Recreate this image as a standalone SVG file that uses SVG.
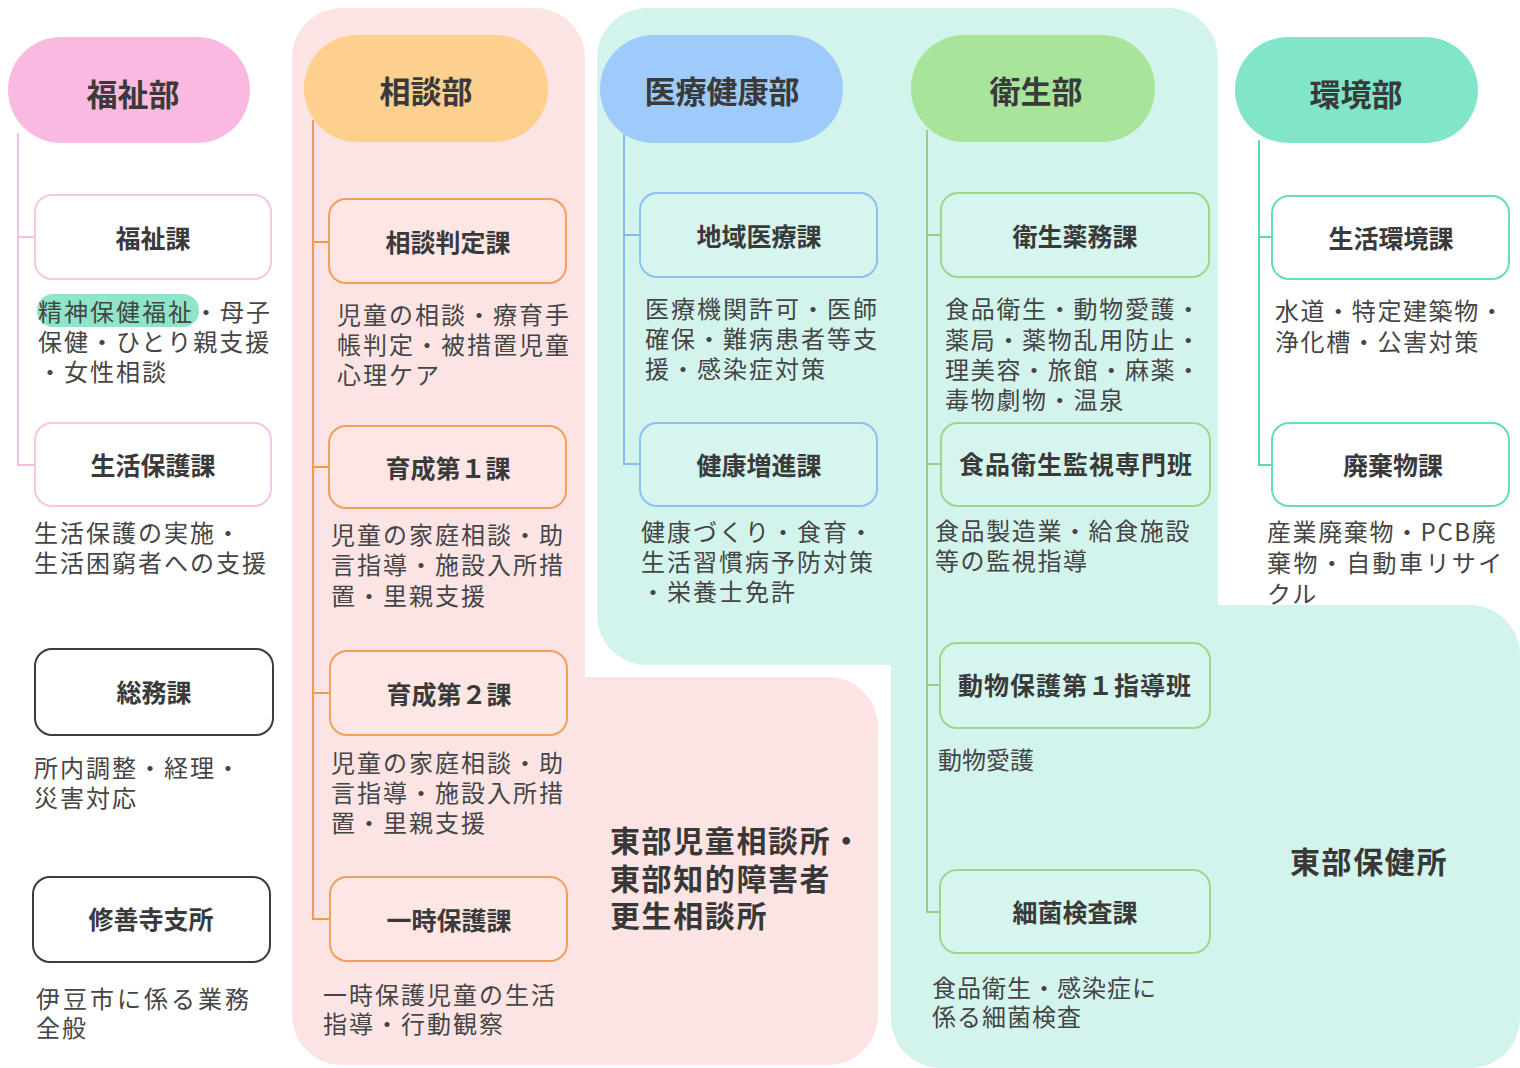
<svg xmlns="http://www.w3.org/2000/svg" width="1520" height="1068" viewBox="0 0 1520 1068">
<style>
text{font-family:"Noto Sans CJK JP","Noto Sans",sans-serif;dominant-baseline:central;}
.pt{font-size:31px;font-weight:700;fill:#3a3a3a;text-anchor:middle;}
.bt{font-size:25px;font-weight:700;fill:#3a3a3a;text-anchor:middle;}
.d{font-size:24px;fill:#454545;letter-spacing:2px;}
.rl{font-size:30px;font-weight:700;fill:#383838;letter-spacing:1.6px;}
.box{stroke-width:2;}
.c{fill:none;stroke-width:2;}
</style>
<rect width="1520" height="1068" fill="#ffffff"/>
<g id="region-jidou" fill="#fde4e4">
<rect x="292" y="8" width="293" height="1057" rx="50"/>
<rect x="420" y="677" width="458" height="388" rx="50"/>
</g>
<g id="region-hokenjo" fill="#d3f4ec">
<rect x="597" y="8" width="621" height="657" rx="50"/>
<rect x="891" y="605" width="629" height="463" rx="50"/>
</g>
<g id="region-labels">
<text class="rl"><tspan x="610" y="839">東部児童相談所・</tspan><tspan x="610" y="877">東部知的障害者</tspan><tspan x="610" y="914">更生相談所</tspan></text>
<text class="rl" x="1290" y="860">東部保健所</text>
</g>
<g id="connectors" class="c">
<path class="c" stroke="#f5bfe1" d="M18 133V465H35M18 237H35"/>
<path class="c" stroke="#f29a4e" d="M313 120V919H330M313 242H329M313 467H329M313 693H330"/>
<path class="c" stroke="#86bbf0" d="M624 134V464H640M624 235H640"/>
<path class="c" stroke="#95d083" d="M927 130V912H940M927 235H941M927 464H941M927 685H940"/>
<path class="c" stroke="#5cd8b5" d="M1259 140V465H1272M1259 237H1272"/>
</g>
<g id="dept-fukushi"><rect x="8" y="37" width="242" height="106" rx="53" fill="#f9b9e0"/><text class="pt" x="133" y="92">福祉部</text></g>
<g id="dept-soudan"><rect x="304" y="35" width="244" height="107" rx="53" fill="#fdd08e"/><text class="pt" x="426" y="89">相談部</text></g>
<g id="dept-iryou"><rect x="600" y="35" width="243" height="108" rx="54" fill="#9ecbfa"/><text class="pt" x="722" y="89">医療健康部</text></g>
<g id="dept-eisei"><rect x="911" y="35" width="244" height="107" rx="53" fill="#a9e49b"/><text class="pt" x="1036" y="89">衛生部</text></g>
<g id="dept-kankyou"><rect x="1235" y="37" width="243" height="106" rx="53" fill="#80e5c9"/><text class="pt" x="1356" y="92">環境部</text></g>

<g id="fukushika">
<rect class="box" x="35" y="195" width="236" height="84" rx="17" fill="#ffffff" stroke="#f7c6e4"/>
<text class="bt" x="153" y="237">福祉課</text>
<rect x="37" y="294" width="162" height="33" rx="16" fill="#8ee5c9"/>
<text class="d"><tspan x="38" y="310">精神保健福祉・母子</tspan><tspan x="38" y="340">保健・ひとり親支援</tspan><tspan x="38" y="370">・女性相談</tspan></text>
</g>
<g id="seikatsuhogoka">
<rect class="box" x="35" y="423" width="236" height="83" rx="17" fill="#ffffff" stroke="#f7c6e4"/>
<text class="bt" x="153" y="464">生活保護課</text>
<text class="d"><tspan x="34" y="531">生活保護の実施・</tspan><tspan x="34" y="561">生活困窮者への支援</tspan></text>
</g>
<g id="soumuka">
<rect class="box" x="35" y="649" width="238" height="86" rx="17" fill="#ffffff" stroke="#3c3c3c"/>
<text class="bt" x="154" y="691">総務課</text>
<text class="d"><tspan x="34" y="766">所内調整・経理・</tspan><tspan x="34" y="796">災害対応</tspan></text>
</g>
<g id="shuzenji">
<rect class="box" x="33" y="877" width="237" height="85" rx="17" fill="#ffffff" stroke="#3c3c3c"/>
<text class="bt" x="151" y="918">修善寺支所</text>
<text class="d"><tspan x="36" y="997" style="letter-spacing:3px">伊豆市に係る業務</tspan><tspan x="36" y="1026">全般</tspan></text>
</g>

<g id="soudanhanteika">
<rect class="box" x="329" y="199" width="237" height="84" rx="17" fill="#fde6e3" stroke="#f0a05a"/>
<text class="bt" x="448" y="241">相談判定課</text>
<text class="d"><tspan x="337" y="313">児童の相談・療育手</tspan><tspan x="337" y="343">帳判定・被措置児童</tspan><tspan x="337" y="373">心理ケア</tspan></text>
</g>
<g id="ikusei1">
<rect class="box" x="329" y="426" width="237" height="82" rx="17" fill="#fde6e3" stroke="#f0a05a"/>
<text class="bt" x="448" y="467">育成第１課</text>
<text class="d"><tspan x="331" y="533">児童の家庭相談・助</tspan><tspan x="331" y="563">言指導・施設入所措</tspan><tspan x="331" y="594">置・里親支援</tspan></text>
</g>
<g id="ikusei2">
<rect class="box" x="330" y="651" width="237" height="84" rx="17" fill="#fde6e3" stroke="#f0a05a"/>
<text class="bt" x="449" y="693">育成第２課</text>
<text class="d"><tspan x="331" y="761">児童の家庭相談・助</tspan><tspan x="331" y="791">言指導・施設入所措</tspan><tspan x="331" y="821">置・里親支援</tspan></text>
</g>
<g id="ichijihogoka">
<rect class="box" x="330" y="877" width="237" height="84" rx="17" fill="#fde6e3" stroke="#f0a05a"/>
<text class="bt" x="449" y="919">一時保護課</text>
<text class="d"><tspan x="323" y="993">一時保護児童の生活</tspan><tspan x="323" y="1022">指導・行動観察</tspan></text>
</g>

<g id="chiikiiryouka">
<rect class="box" x="640" y="193" width="237" height="84" rx="17" fill="#d6f5ee" stroke="#8ec0f2"/>
<text class="bt" x="759" y="235">地域医療課</text>
<text class="d"><tspan x="645" y="307">医療機関許可・医師</tspan><tspan x="645" y="337">確保・難病患者等支</tspan><tspan x="645" y="367">援・感染症対策</tspan></text>
</g>
<g id="kenkouzoushinka">
<rect class="box" x="640" y="423" width="237" height="83" rx="17" fill="#d6f5ee" stroke="#8ec0f2"/>
<text class="bt" x="759" y="464">健康増進課</text>
<text class="d"><tspan x="641" y="530">健康づくり・食育・</tspan><tspan x="641" y="560">生活習慣病予防対策</tspan><tspan x="641" y="590">・栄養士免許</tspan></text>
</g>

<g id="eiseiyakumuka">
<rect class="box" x="941" y="193" width="268" height="84" rx="17" fill="#d6f5ee" stroke="#9fd68e"/>
<text class="bt" x="1075" y="235">衛生薬務課</text>
<text class="d" style="letter-spacing:1.7px"><tspan x="945" y="307">食品衛生・動物愛護・</tspan><tspan x="945" y="338">薬局・薬物乱用防止・</tspan><tspan x="945" y="368">理美容・旅館・麻薬・</tspan><tspan x="945" y="398">毒物劇物・温泉</tspan></text>
</g>
<g id="shokuhinkanshi">
<rect class="box" x="941" y="423" width="269" height="83" rx="17" fill="#d6f5ee" stroke="#9fd68e"/>
<text class="bt" x="1076" y="463" style="letter-spacing:1px">食品衛生監視専門班</text>
<text class="d" style="letter-spacing:1.6px"><tspan x="935" y="529">食品製造業・給食施設</tspan><tspan x="935" y="559">等の監視指導</tspan></text>
</g>
<g id="doubutsuhogo">
<rect class="box" x="940" y="643" width="270" height="85" rx="17" fill="#d6f5ee" stroke="#9fd68e"/>
<text class="bt" x="1075" y="684" style="letter-spacing:1px">動物保護第１指導班</text>
<text class="d" x="938" y="758" style="letter-spacing:0px">動物愛護</text>
</g>
<g id="saikinkensaka">
<rect class="box" x="940" y="870" width="270" height="83" rx="17" fill="#d6f5ee" stroke="#9fd68e"/>
<text class="bt" x="1075" y="911">細菌検査課</text>
<text class="d" style="letter-spacing:1px"><tspan x="932" y="986">食品衛生・感染症に</tspan><tspan x="932" y="1015">係る細菌検査</tspan></text>
</g>

<g id="seikatsukankyouka">
<rect class="box" x="1272" y="196" width="237" height="83" rx="17" fill="#ffffff" stroke="#66dcbc"/>
<text class="bt" x="1391" y="237">生活環境課</text>
<text class="d" style="letter-spacing:1.6px"><tspan x="1275" y="309">水道・特定建築物・</tspan><tspan x="1275" y="340">浄化槽・公害対策</tspan></text>
</g>
<g id="haikibutsuka">
<rect class="box" x="1272" y="423" width="237" height="83" rx="17" fill="#ffffff" stroke="#66dcbc"/>
<text class="bt" x="1393" y="464">廃棄物課</text>
<text class="d"><tspan x="1267" y="530" style="letter-spacing:1.6px">産業廃棄物・PCB廃</tspan><tspan x="1267" y="561" style="letter-spacing:2.4px">棄物・自動車リサイ</tspan><tspan x="1267" y="592">クル</tspan></text>
</g>
</svg>
